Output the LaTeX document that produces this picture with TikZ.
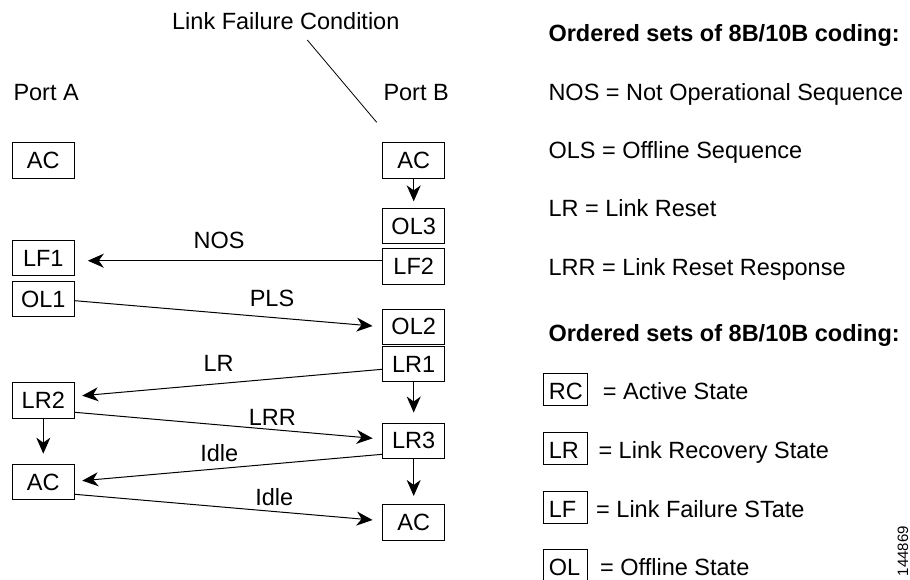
\documentclass[tikz,border=0pt]{standalone}
\usepackage{fontspec}
\setmainfont{Liberation Sans}
\usetikzlibrary{arrows.meta}
\begin{document}
\begin{tikzpicture}[x=1pt,y=-1pt,
  every node/.style={font=\fontsize{23.5}{28}\selectfont, inner sep=0pt},
  state/.style={draw, line width=1pt, minimum width=62pt, minimum height=35.5pt},
  legbox/.style={draw, line width=1pt, inner xsep=5pt, inner ysep=0pt, text height=19.6pt, text depth=0pt, minimum height=32pt, anchor=north west},
  txt/.style={anchor=base west},
  lbl/.style={anchor=base},
  arr/.style={line width=1pt, -{Stealth[length=16pt,width=14pt,inset=5pt]}}
]
\useasboundingbox (0,0) rectangle (910,580);

% headings
\node[lbl] (lfc) at (285.8,29.3) {Link Failure Condition};
\coordinate (lfcA) at (307.3,40);
\coordinate (lfcB) at (376.7,122.3);
\draw[line width=0.8pt] (lfcA) -- (lfcB);
\node[txt] (porta) at (13.3,100.7) {Port A};
\node[txt] (portb) at (383.3,100.7) {Port B};

% Port A states
\node[state] (acA1) at (43.3,160.5) {AC};
\node[state] (lf1) at (43.3,258) {LF1};
\node[state] (ol1) at (43.3,299.2) {OL1};
\node[state] (lr2) at (43.3,400.5) {LR2};
\node[state] (acA2) at (43.3,482.2) {AC};

% Port B states
\node[state] (acB1) at (413.7,160.5) {AC};
\node[state] (ol3) at (413.7,226.2) {OL3};
\node[state] (lf2) at (413.7,266.3) {LF2};
\node[state] (ol2) at (413.7,326.8) {OL2};
\node[state] (lr1) at (413.7,364.2) {LR1};
\node[state] (lr3) at (413.7,440.8) {LR3};
\node[state] (acB2) at (413.7,522.5) {AC};

% vertical arrows
\draw[arr] (acB1.south) -- ([yshift=6.6pt]ol3.north);
\draw[arr] (lr1.south) -- ([yshift=10pt]lr3.north);
\draw[arr] (lr3.south) -- ([yshift=8.3pt]acB2.north);
\draw[arr] (lr2.south) -- ([yshift=10.3pt]acA2.north);

% horizontal arrows
\draw[arr] ([yshift=5.6pt]lf2.west) -- ([xshift=13pt,yshift=-2.7pt]lf1.east);
\draw[arr] ([yshift=-1.5pt]ol1.east) -- ([xshift=-9.6pt,yshift=0.8pt]ol2.west);
\draw[arr] ([yshift=-5.1pt]lr1.west) -- ([xshift=7.4pt,yshift=4.8pt]lr2.east);
\draw[arr] ([yshift=-11.8pt]lr2.east) -- ([xshift=-9.6pt,yshift=2.5pt]lr3.west);
\draw[arr] ([yshift=-13.5pt]lr3.west) -- ([xshift=7.4pt,yshift=1.5pt]acA2.east);
\draw[arr] ([yshift=-12.1pt]acA2.east) -- ([xshift=-9.6pt,yshift=2.5pt]acB2.west);

% arrow labels
\node[lbl] (lnos) at (219,248.3) {NOS};
\node[lbl] (lpls) at (272,306) {PLS};
\node[lbl] (llr) at (218.7,371.7) {LR};
\node[lbl] (llrr) at (272.3,425) {LRR};
\node[lbl] (lidle1) at (219.3,461) {Idle};
\node[lbl] (lidle2) at (274.3,505) {Idle};

% right legend
\node[txt] (t1) at (548.3,41.7) {\bfseries Ordered sets of 8B/10B coding:};
\node[txt] (t2) at (548.3,100.7) {NOS = Not Operational Sequence};
\node[txt] (t3) at (548.3,158.3) {OLS = Offline Sequence};
\node[txt] (t4) at (548.3,216.7) {LR = Link Reset};
\node[txt] (t5) at (548.3,275) {LRR = Link Reset Response};
\node[txt] (t6) at (548.3,341.7) {\bfseries Ordered sets of 8B/10B coding:};

\node[legbox] (bRC) at (543.3,373.3) {\makebox[33.4pt][l]{RC}};
\node[txt] (eRC) at (602.7,399.5) {= Active State};
\node[legbox] (bLR) at (543.3,432.3) {\makebox[33.4pt][l]{LR}};
\node[txt] (eLR) at (598.3,458.5) {= Link Recovery State};
\node[legbox] (bLF) at (543.3,490.7) {\makebox[33.4pt][l]{LF}};
\node[txt] (eLF) at (596,517) {= Link Failure STate};
\node[legbox] (bOL) at (543.3,549.3) {\makebox[33.4pt][l]{OL}};
\node[txt] (eOL) at (600,575.5) {= Offline State};

\node[rotate=90, font=\fontsize{15}{18}\selectfont] (num) at (903,551) {144869};
\end{tikzpicture}
\end{document}
